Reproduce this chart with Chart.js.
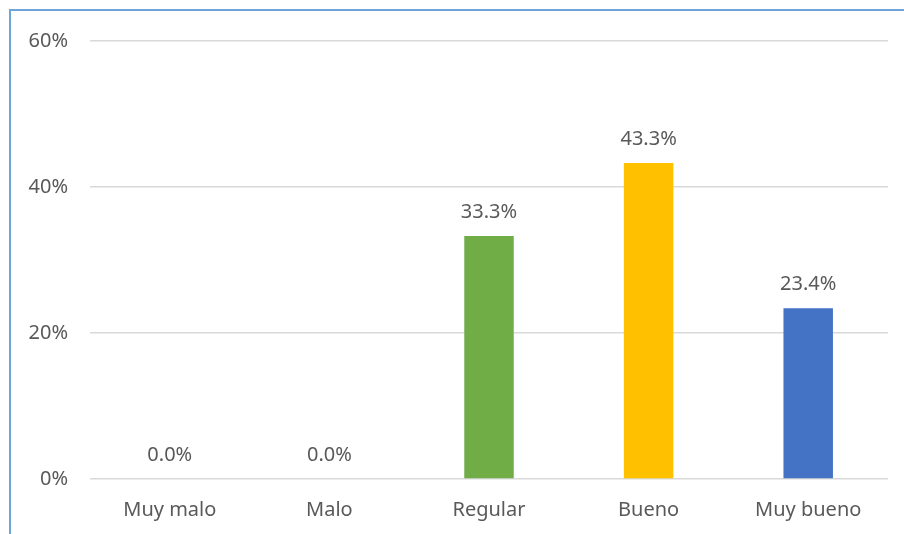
<!DOCTYPE html>
<html>
<head>
<meta charset="utf-8">
<script src="https://cdn.jsdelivr.net/npm/chart.js@4/dist/chart.umd.min.js"></script>
<style>
	html, body { margin: 0; padding: 0; background: #fff; overflow: hidden; }
	#wrap { position: relative; width: 904px; height: 534px; }
	#frame { position: absolute; left: 9px; top: 9px; width: 1000px; height: 600px;
		border-left: 2px solid #6fa3dc; border-top: 2px solid #6fa3dc; }
	canvas { position: absolute; left: 0; top: 0; }
</style>
</head>
<body>
<div id="wrap">
	<div id="frame"></div>
	<canvas id="barChart" width="904" height="534"></canvas>
</div>
<script>
const categories = ['Muy malo', 'Malo', 'Regular', 'Bueno', 'Muy bueno']
const percents = [0.0, 0.0, 33.3, 43.3, 23.4]
const barColors = ['#a5a5a5', '#ed7d31', '#70ad47', '#ffc000', '#4472c4']
const yTicks = [0, 20, 40, 60]

const font = 'Noto Sans'
const textColor = '#595959'

// value labels above each bar
const valueLabels = {
	id: 'valueLabels',
	afterDatasetsDraw(chart) {
		const ctx = chart.ctx
		const meta = chart.getDatasetMeta(0)
		ctx.save()
		ctx.font = `20px "${font}"`
		ctx.fillStyle = textColor
		ctx.textAlign = 'center'
		ctx.textBaseline = 'middle'
		meta.data.forEach(function(bar, i) {
			ctx.fillText(percents[i].toFixed(1) + '%', bar.x, bar.y - 24)
		})
		ctx.restore()
	}
}

new Chart(document.getElementById('barChart'), {
	type: 'bar',
	data: {
		labels: categories,
		datasets: [{
			data: percents,
			backgroundColor: barColors,
			barPercentage: 0.31,
			categoryPercentage: 1
		}]
	},
	options: {
		responsive: false,
		animation: false,
		layout: { padding: { left: 10, right: 16, top: 41, bottom: 1 } },
		plugins: { legend: { display: false }, tooltip: { enabled: false } },
		scales: {
			x: {
				afterFit(scale) { scale.height = 54 },
				grid: { display: false },
				border: { display: false },
				ticks: { color: textColor, font: { family: font, size: 20 }, padding: 11 }
			},
			y: {
				min: 0,
				max: yTicks[yTicks.length - 1],
				afterBuildTicks(scale) { scale.ticks = yTicks.map(v => ({ value: v })) },
				afterFit(scale) { scale.width = 80 },
				grid: { color: '#d9d9d9', lineWidth: 1.5, drawTicks: false },
				border: { display: false },
				ticks: {
					color: textColor,
					font: { family: font, size: 20 },
					padding: 22,
					callback: v => v + '%'
				}
			}
		}
	},
	plugins: [valueLabels]
})
</script>
</body>
</html>
